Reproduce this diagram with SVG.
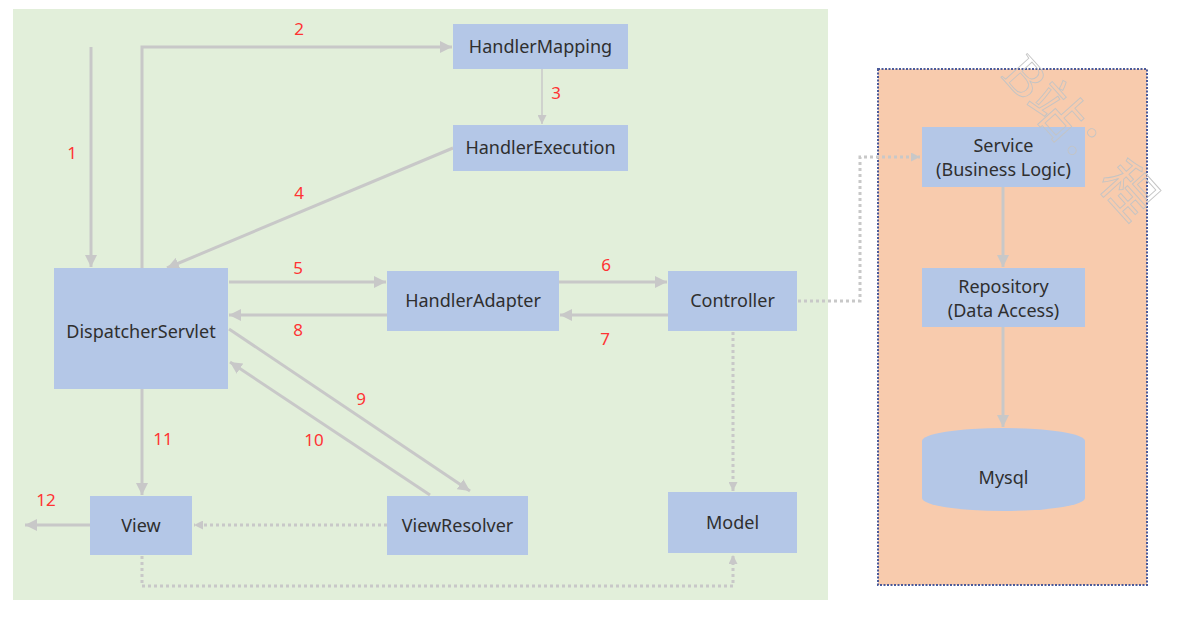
<svg xmlns="http://www.w3.org/2000/svg" width="1179" height="621" viewBox="0 0 1179 621">
  <defs>
    <style>
      .node { fill: #b4c7e7; }
      .label { font-family: "Noto Sans", "Liberation Sans", sans-serif; font-size: 18px; fill: #2f2f2f; text-anchor: middle; }
      .step { font-family: "Noto Sans", "Liberation Sans", sans-serif; font-size: 17px; fill: #ff3333; text-anchor: middle; }
      .flow { fill: none; stroke: #c8c8c8; stroke-width: 3; }
      .thin { fill: none; stroke: #c8c8c8; stroke-width: 1.5; }
      .dot { fill: none; stroke: #c8c8c8; stroke-width: 3; stroke-dasharray: 3 3; }
      .mark { font-family: "Liberation Serif", "Noto Sans CJK SC", serif; font-size: 54px; fill: none; stroke: #c4c4c4; stroke-width: 0.9; }
    </style>
    <marker id="ah" viewBox="0 0 10 10" refX="10" refY="5" markerWidth="12" markerHeight="12" markerUnits="userSpaceOnUse" orient="auto">
      <path d="M0,0 L10,5 L0,10 Z" fill="#c8c8c8"/>
    </marker>
    <marker id="ahs" viewBox="0 0 10 10" refX="10" refY="5" markerWidth="9" markerHeight="9" markerUnits="userSpaceOnUse" orient="auto">
      <path d="M0,0 L10,5 L0,10 Z" fill="#c8c8c8"/>
    </marker>
  </defs>

  <rect width="1179" height="621" fill="#ffffff"/>

  <!-- web tier panel -->
  <rect id="web-tier" x="13" y="9" width="815" height="591" fill="#e2efda"/>

  <!-- backend tier panel -->
  <rect id="backend-tier" x="878" y="69" width="269" height="516" fill="#f8cbad" stroke="#4a5a9a" stroke-width="2" stroke-dasharray="2 1.5"/>

  <!-- connectors -->
  <g id="connectors">
    <path class="flow" d="M91,47 V267" marker-end="url(#ah)"/>
    <path class="flow" d="M142,268 V47 H452" marker-end="url(#ah)"/>
    <path class="thin" d="M542,69 V124" marker-end="url(#ahs)"/>
    <path class="flow" d="M453,148 L167,268" marker-end="url(#ah)"/>
    <path class="flow" d="M229,282 H386" marker-end="url(#ah)"/>
    <path class="flow" d="M559,282 H667" marker-end="url(#ah)"/>
    <path class="flow" d="M668,315 H560" marker-end="url(#ah)"/>
    <path class="flow" d="M387,315 H229" marker-end="url(#ah)"/>
    <path class="flow" d="M229,329 L470,491" marker-end="url(#ah)"/>
    <path class="flow" d="M430,495 L230,362" marker-end="url(#ah)"/>
    <path class="flow" d="M142,389 V495" marker-end="url(#ah)"/>
    <path class="flow" d="M90,525 H25" marker-end="url(#ah)"/>
    <path class="dot" d="M387,525 H194" marker-end="url(#ahs)"/>
    <path class="dot" d="M142,556 V586 H733 V555" marker-end="url(#ahs)"/>
    <path class="dot" d="M733,332 V491" marker-end="url(#ahs)"/>
    <path class="dot" d="M798,301 H860 V157 H920" marker-end="url(#ahs)"/>
    <path class="flow" d="M1003,187 V267" marker-end="url(#ah)"/>
    <path class="flow" d="M1003,327 V427" marker-end="url(#ah)"/>
  </g>

  <!-- step numbers -->
  <g id="steps">
    <text class="step" x="72" y="159">1</text>
    <text class="step" x="299" y="35">2</text>
    <text class="step" x="556" y="99">3</text>
    <text class="step" x="299" y="199">4</text>
    <text class="step" x="298" y="274">5</text>
    <text class="step" x="606" y="271">6</text>
    <text class="step" x="605" y="345">7</text>
    <text class="step" x="298" y="336">8</text>
    <text class="step" x="361" y="405">9</text>
    <text class="step" x="314" y="446">10</text>
    <text class="step" x="163" y="445">11</text>
    <text class="step" x="46" y="506">12</text>
  </g>

  <!-- nodes -->
  <g id="handler-mapping">
    <rect class="node" x="453" y="24" width="175" height="45"/>
    <text class="label" x="540.5" y="53">HandlerMapping</text>
  </g>
  <g id="handler-execution">
    <rect class="node" x="453" y="125" width="175" height="46"/>
    <text class="label" x="540.5" y="154">HandlerExecution</text>
  </g>
  <g id="dispatcher-servlet">
    <rect class="node" x="54" y="268" width="174" height="121"/>
    <text class="label" x="141" y="338">DispatcherServlet</text>
  </g>
  <g id="handler-adapter">
    <rect class="node" x="387" y="271" width="172" height="60"/>
    <text class="label" x="473" y="307">HandlerAdapter</text>
  </g>
  <g id="controller">
    <rect class="node" x="668" y="271" width="129" height="60"/>
    <text class="label" x="732.5" y="307">Controller</text>
  </g>
  <g id="view">
    <rect class="node" x="90" y="496" width="102" height="59"/>
    <text class="label" x="141" y="532">View</text>
  </g>
  <g id="view-resolver">
    <rect class="node" x="387" y="496" width="141" height="59"/>
    <text class="label" x="457.5" y="532">ViewResolver</text>
  </g>
  <g id="model">
    <rect class="node" x="668" y="492" width="129" height="61"/>
    <text class="label" x="732.5" y="529">Model</text>
  </g>
  <g id="service">
    <rect class="node" x="922" y="127" width="163" height="60"/>
    <text class="label" x="1003.5" y="152">Service</text>
    <text class="label" x="1003.5" y="176">(Business Logic)</text>
  </g>
  <g id="repository">
    <rect class="node" x="922" y="268" width="163" height="59"/>
    <text class="label" x="1003.5" y="293">Repository</text>
    <text class="label" x="1003.5" y="317">(Data Access)</text>
  </g>
  <g id="mysql">
    <path class="node" d="M922,441 A81.5,13 0 0 1 1085,441 V498 A81.5,13 0 0 1 922,498 Z"/>
    <text class="label" x="1003.5" y="484">Mysql</text>
  </g>

  <!-- watermark -->
  <text class="mark" transform="translate(1000,76) rotate(48)">B站：程</text>
</svg>
